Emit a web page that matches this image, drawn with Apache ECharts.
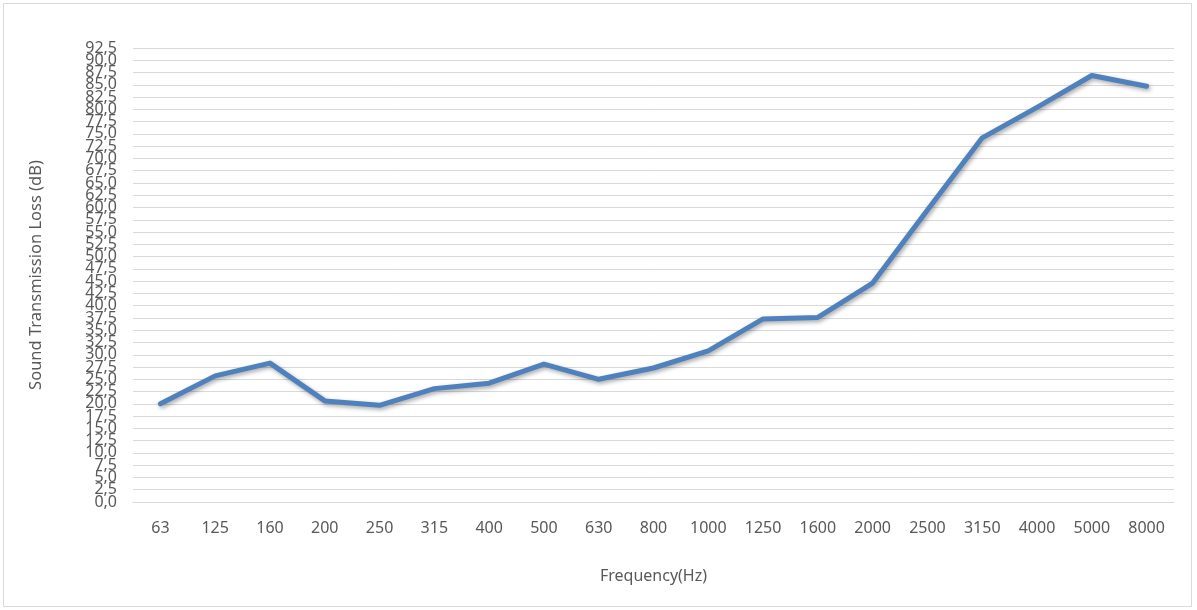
<!DOCTYPE html>
<html>
<head>
<meta charset="utf-8">
<script src="https://cdn.jsdelivr.net/npm/echarts@6/dist/echarts.min.js"></script>
<style>
html,body{margin:0;padding:0;background:#fff;}
#c{width:1197px;height:610px;}
</style>
</head>
<body>
<div id="c"></div>
<script>
var categories = ['63','125','160','200','250','315','400','500','630','800','1000','1250','1600','2000','2500','3150','4000','5000','8000'];
var values = [20.0, 25.7, 28.3, 20.6, 19.7, 23.1, 24.2, 28.1, 25.0, 27.3, 30.8, 37.3, 37.6, 44.6, 59.5, 74.2, 80.4, 86.9, 84.7];
var xTitle = 'Frequency(Hz)';
var yTitle = 'Sound Transmission Loss (dB)';
var yMin = 0, yMax = 92.5, yStep = 2.5;

var chart = echarts.init(document.getElementById('c'));
var font = 'Noto Sans';
function fmt(v) { return v.toFixed(1).replace('.', ','); }
function isEven(v) { return Math.abs(Math.round(v / yStep) % 2) === 0; }
var labelBase = {color: '#595959', fontSize: 16, fontFamily: font, margin: 16, hideOverlap: false};

chart.setOption({
  animation: false,
  backgroundColor: '#fff',
  graphic: [{
    type: 'rect',
    shape: {x: 3.5, y: 3.5, width: 1188, height: 603},
    style: {fill: 'none', stroke: '#d9d9d9', lineWidth: 1},
    silent: true
  }],
  grid: {left: 133, right: 23, top: 48, bottom: 108, containLabel: false},
  xAxis: {
    type: 'category',
    data: categories,
    boundaryGap: true,
    name: xTitle,
    nameLocation: 'middle',
    nameGap: 66,
    nameTextStyle: {color: '#595959', fontSize: 16, fontFamily: font},
    axisLine: {show: true, lineStyle: {color: '#d9d9d9', width: 1}},
    axisTick: {show: false},
    axisLabel: {color: '#595959', fontSize: 16, fontFamily: font, margin: 18, interval: 0}
  },
  yAxis: [{
    type: 'value',
    position: 'left',
    min: yMin, max: yMax, interval: yStep,
    name: yTitle,
    nameLocation: 'middle',
    nameGap: 88,
    nameTextStyle: {color: '#595959', fontSize: 16.5, fontFamily: font},
    axisLine: {show: false},
    axisTick: {show: false},
    splitLine: {lineStyle: {color: '#d9d9d9', width: 1}},
    axisLabel: Object.assign({}, labelBase, {
      showMinLabel: true, showMaxLabel: false,
      formatter: function (v) { return isEven(v) ? fmt(v) : ''; }
    })
  }, {
    type: 'value',
    position: 'left',
    offset: 0,
    min: yMin, max: yMax, interval: yStep,
    axisLine: {show: false},
    axisTick: {show: false},
    splitLine: {show: false},
    axisLabel: Object.assign({}, labelBase, {
      showMinLabel: false, showMaxLabel: true,
      formatter: function (v) { return isEven(v) ? '' : fmt(v); }
    })
  }],
  series: [{
    type: 'line',
    data: values,
    yAxisIndex: 0,
    symbol: 'none',
    lineStyle: {
      color: '#4f81bd', width: 5, cap: 'round', join: 'round',
      shadowColor: 'rgba(0,0,0,0.35)', shadowBlur: 4, shadowOffsetX: 1.5, shadowOffsetY: 2
    },
    itemStyle: {color: '#4f81bd'}
  }]
});
</script>
</body>
</html>
